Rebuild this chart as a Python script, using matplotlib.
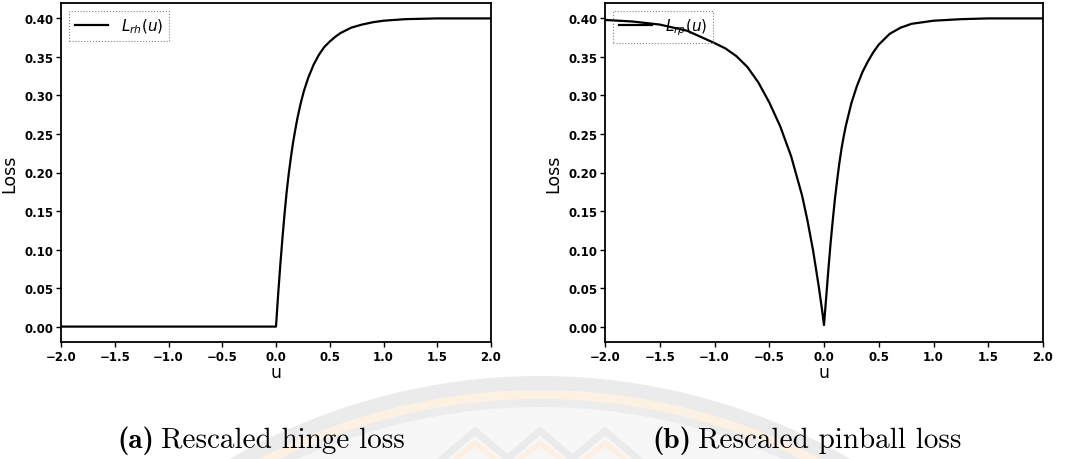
import matplotlib
matplotlib.use('Agg')
import matplotlib.pyplot as plt
from matplotlib.patches import Circle

# rescaled hinge loss
hinge_u = [-2.0, 0.0, 0.02, 0.04, 0.06, 0.08, 0.10, 0.12, 0.14, 0.16, 0.18, 0.20, 0.23,
           0.26, 0.30, 0.35, 0.40, 0.45, 0.50, 0.55, 0.60, 0.70, 0.80, 0.90, 1.00,
           1.20, 1.50, 2.00]
hinge_loss = [0.0, 0.0, 0.042, 0.080, 0.115, 0.147, 0.176, 0.200, 0.221, 0.240, 0.256, 0.271, 0.290,
              0.306, 0.323, 0.340, 0.353, 0.363, 0.370, 0.376, 0.381, 0.388, 0.392, 0.395, 0.397,
              0.399, 0.400, 0.400]

# rescaled pinball loss
pin_u = [-2.0, -1.75, -1.5, -1.25, -1.0, -0.9, -0.8, -0.7, -0.6, -0.5, -0.4, -0.3,
         -0.2, -0.15, -0.1, -0.05, -0.02, 0.0, 0.02, 0.04, 0.06, 0.08, 0.10, 0.12,
         0.14, 0.16, 0.18, 0.2, 0.25, 0.3, 0.35, 0.4, 0.45, 0.5, 0.6, 0.7, 0.8, 0.9,
         1.0, 1.25, 1.5, 2.0]
pin_loss = [0.398, 0.396, 0.392, 0.384, 0.368, 0.361, 0.351, 0.337, 0.317, 0.291, 0.260, 0.221,
            0.170, 0.137, 0.099, 0.054, 0.024, 0.002, 0.038, 0.074, 0.108, 0.138, 0.166, 0.190,
            0.212, 0.231, 0.247, 0.261, 0.290, 0.312, 0.330, 0.344, 0.356, 0.366, 0.380, 0.388,
            0.393, 0.395, 0.397, 0.399, 0.400, 0.400]

x_ticks = [-2.0, -1.5, -1.0, -0.5, 0.0, 0.5, 1.0, 1.5, 2.0]
y_ticks = [0.00, 0.05, 0.10, 0.15, 0.20, 0.25, 0.30, 0.35, 0.40]
legend_labels = [r'$L_{rh}(u)$', r'$L_{rp}(u)$']
sub_tags = ['(a)', '(b)']
sub_titles = ['Rescaled hinge loss', 'Rescaled pinball loss']

plt.rcParams['mathtext.fontset'] = 'dejavusans'

W, H = 1071, 460
fig = plt.figure(figsize=(W / 100, H / 100), dpi=100)

# faint seal behind the captions
bg = fig.add_axes([0, 0, 1, 1], zorder=-5)
bg.set_xlim(0, W)
bg.set_ylim(H, 0)
bg.axis('off')
for r, c in [(622, '#ebebeb'), (608, '#fdf1e4'), (599, '#ececec'), (591, '#f7f7f7')]:
    bg.add_patch(Circle((540, 999), r, color=c, lw=0))
for px in [475, 540, 605]:
    bg.plot([px - 45, px, px + 45], [470, 432, 470], color='#ebebeb', lw=5, solid_joinstyle='miter')
    bg.plot([px - 32, px, px + 32], [470, 444, 470], color='#fdf0e2', lw=4, solid_joinstyle='miter')

boxes = [[61 / W, 1 - 343 / H, 430 / W, 339 / H],
         [605 / W, 1 - 343 / H, 438 / W, 339 / H]]
series = [(hinge_u, hinge_loss), (pin_u, pin_loss)]

for i, (u, loss) in enumerate(series):
    ax = fig.add_axes(boxes[i])
    ax.plot(u, loss, color='black', lw=1.6, label=legend_labels[i])
    ax.set_xlim(-2.0, 2.0)
    ax.set_ylim(-0.02, 0.42)
    ax.set_xticks(x_ticks)
    ax.set_yticks(y_ticks)
    ax.set_xticklabels([('%.1f' % t).replace('-', '\u2212') for t in x_ticks])
    ax.set_yticklabels(['%.2f' % t for t in y_ticks])
    ax.tick_params(labelsize=8.5, width=1.0, length=3.5, pad=2)
    for lbl in ax.get_xticklabels() + ax.get_yticklabels():
        lbl.set_fontweight('bold')
    for s in ax.spines.values():
        s.set_linewidth(1.3)
    ax.set_xlabel('u', fontsize=12.5, labelpad=0)
    ax.set_ylabel('Loss', fontsize=12.5, labelpad=4)
    leg = ax.legend(loc='upper left', fontsize=11, handlelength=2.2, fancybox=False,
                    edgecolor='0.5', borderaxespad=0.5)
    frame = leg.get_frame()
    frame.set_facecolor('none')
    frame.set_alpha(1)
    frame.set_linestyle(':')
    frame.set_linewidth(0.8)

# captions: bold tag followed by roman title, centred as one line
renderer = fig.canvas.get_renderer()
gap = 7
for i, cx in enumerate([261, 807]):
    tag = fig.text(0, 1 - 441 / H, sub_tags[i], va='center', fontsize=21, family='cmb10')
    title = fig.text(0, 1 - 441 / H, sub_titles[i], va='center', fontsize=21, family='cmr10')
    w_tag = tag.get_window_extent(renderer).width
    w_title = title.get_window_extent(renderer).width
    x0 = cx - (w_tag + gap + w_title) / 2
    tag.set_x(x0 / W)
    title.set_x((x0 + w_tag + gap) / W)

fig.savefig('out.png', dpi=100)
